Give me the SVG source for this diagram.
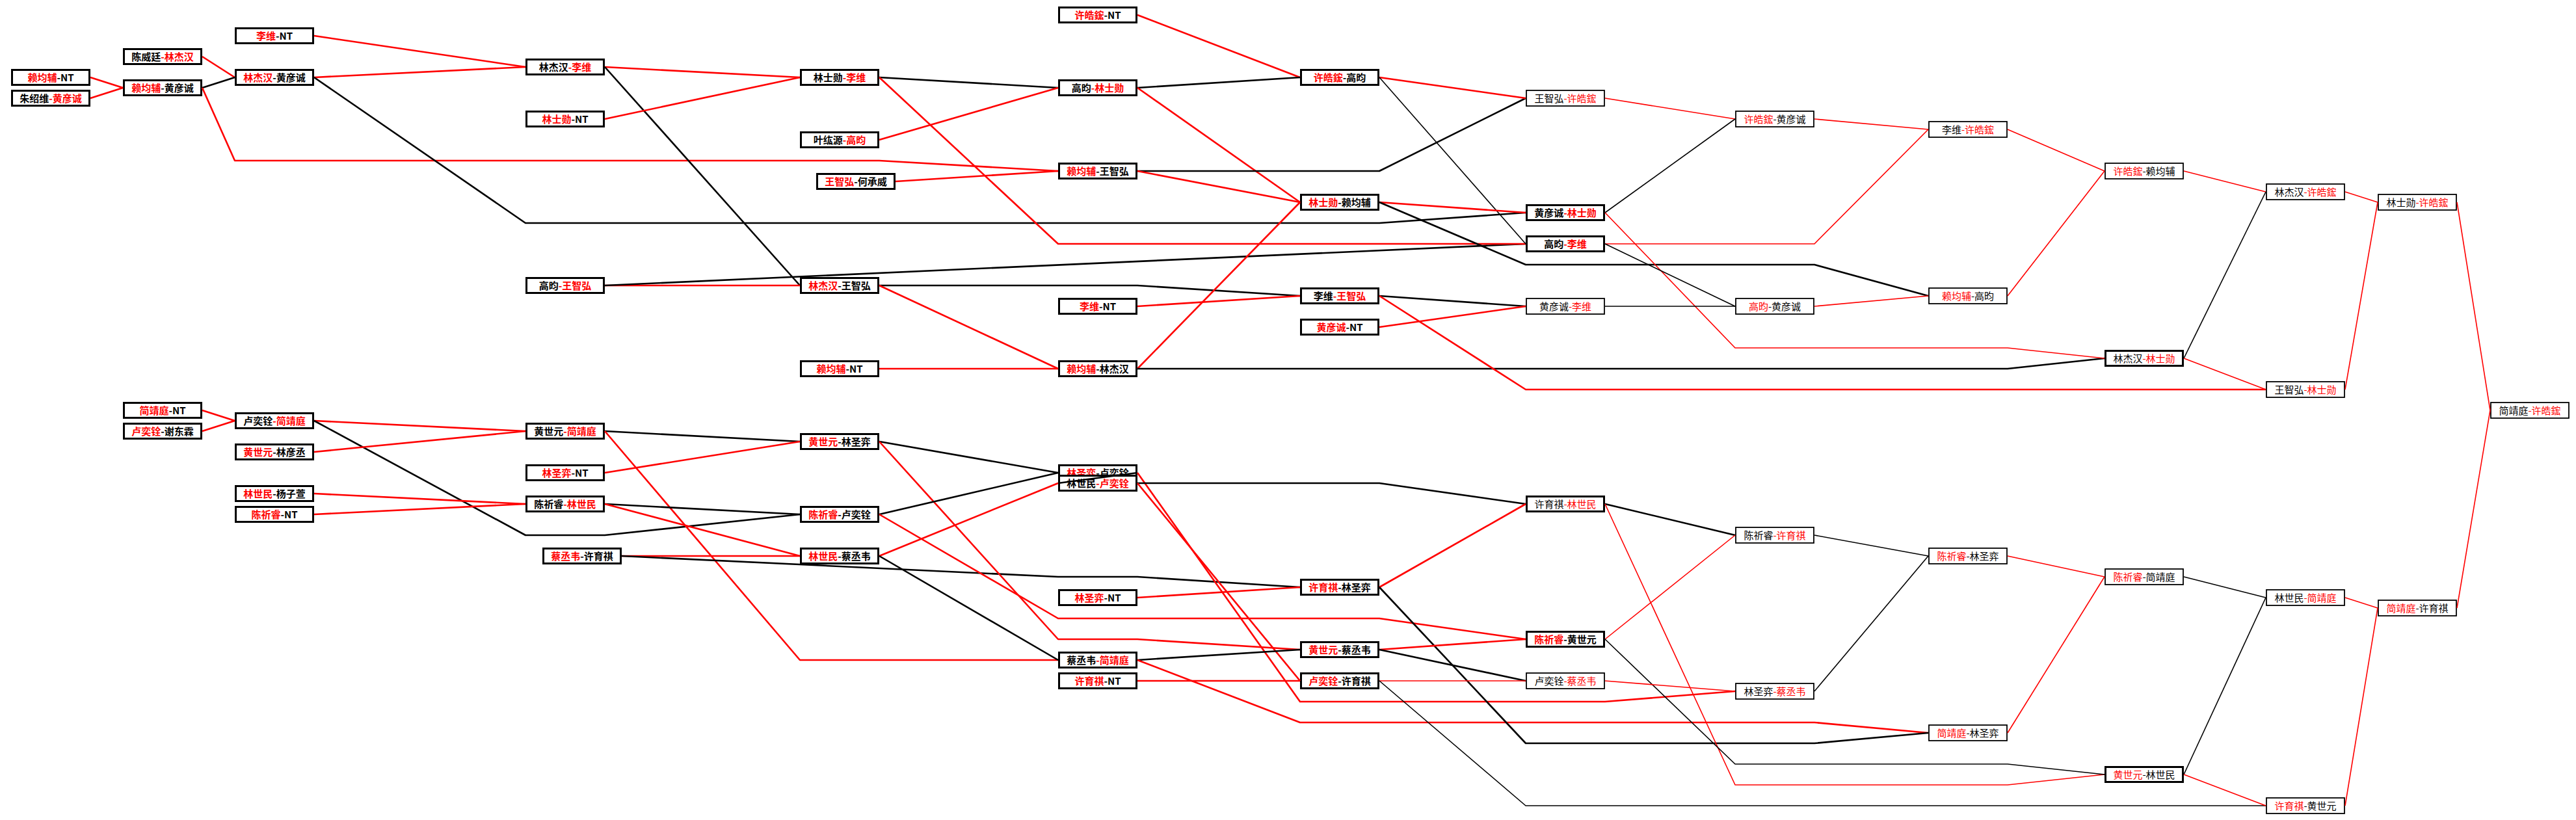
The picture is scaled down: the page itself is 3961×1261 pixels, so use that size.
<svg xmlns="http://www.w3.org/2000/svg" width="3961" height="1261" viewBox="0 0 3961 1261">
<style>
.bg{fill:#fff}
.bx{fill:#fff;stroke:#000;stroke-width:3}
.bx2{fill:#fff;stroke:#000;stroke-width:1.8}
.t{font-family:"Noto Sans CJK SC",sans-serif;font-size:15px;text-anchor:middle;font-weight:700}
.t2{font-family:"Noto Sans CJK SC",sans-serif;font-size:15px;text-anchor:middle;font-weight:400}
.r{fill:#f00}
.k{fill:#000}
.lr{fill:none;stroke:#f00;stroke-width:2.6;stroke-linejoin:round}
.lb{fill:none;stroke:#000;stroke-width:2.6;stroke-linejoin:round}
.th{stroke-width:1.6}
</style>
<rect class="bg" x="0" y="0" width="3961" height="1261"/>
<g id="nodes">
<g id="n1"><rect class="bx" x="18.5" y="107.5" width="119" height="23"/><text class="t" x="78" y="124.5"><tspan class="r">赖均辅</tspan><tspan class="k">-NT</tspan></text></g>
<g id="n2"><rect class="bx" x="18.5" y="139.5" width="119" height="23"/><text class="t" x="78" y="156.5"><tspan class="k">朱绍维</tspan><tspan class="r">-黄彦诚</tspan></text></g>
<g id="n3"><rect class="bx" x="190.5" y="75.5" width="119" height="23"/><text class="t" x="250" y="92.5"><tspan class="k">陈威廷</tspan><tspan class="r">-林杰汉</tspan></text></g>
<g id="n4"><rect class="bx" x="190.5" y="123.5" width="119" height="23"/><text class="t" x="250" y="140.5"><tspan class="r">赖均辅</tspan><tspan class="k">-黄彦诚</tspan></text></g>
<g id="n5"><rect class="bx" x="362.5" y="43.5" width="119" height="23"/><text class="t" x="422" y="60.5"><tspan class="r">李维</tspan><tspan class="k">-NT</tspan></text></g>
<g id="n6"><rect class="bx" x="362.5" y="107.5" width="119" height="23"/><text class="t" x="422" y="124.5"><tspan class="r">林杰汉</tspan><tspan class="k">-黄彦诚</tspan></text></g>
<g id="n7"><rect class="bx" x="809.5" y="91.5" width="119" height="23"/><text class="t" x="869" y="108.5"><tspan class="k">林杰汉</tspan><tspan class="r">-李维</tspan></text></g>
<g id="n8"><rect class="bx" x="809.5" y="171.5" width="119" height="23"/><text class="t" x="869" y="188.5"><tspan class="r">林士勋</tspan><tspan class="k">-NT</tspan></text></g>
<g id="n9"><rect class="bx" x="809.5" y="427.5" width="119" height="23"/><text class="t" x="869" y="444.5"><tspan class="k">高昀</tspan><tspan class="r">-王智弘</tspan></text></g>
<g id="n10"><rect class="bx" x="1231.5" y="107.5" width="119" height="23"/><text class="t" x="1291" y="124.5"><tspan class="k">林士勋</tspan><tspan class="r">-李维</tspan></text></g>
<g id="n11"><rect class="bx" x="1231.5" y="203.5" width="119" height="23"/><text class="t" x="1291" y="220.5"><tspan class="k">叶纮源</tspan><tspan class="r">-高昀</tspan></text></g>
<g id="n12"><rect class="bx" x="1256.5" y="267.5" width="119" height="23"/><text class="t" x="1316" y="284.5"><tspan class="r">王智弘</tspan><tspan class="k">-何承威</tspan></text></g>
<g id="n13"><rect class="bx" x="1231.5" y="427.5" width="119" height="23"/><text class="t" x="1291" y="444.5"><tspan class="r">林杰汉</tspan><tspan class="k">-王智弘</tspan></text></g>
<g id="n14"><rect class="bx" x="1231.5" y="555.5" width="119" height="23"/><text class="t" x="1291" y="572.5"><tspan class="r">赖均辅</tspan><tspan class="k">-NT</tspan></text></g>
<g id="n15"><rect class="bx" x="1628.5" y="11.5" width="119" height="23"/><text class="t" x="1688" y="28.5"><tspan class="r">许皓鋐</tspan><tspan class="k">-NT</tspan></text></g>
<g id="n16"><rect class="bx" x="1628.5" y="123.5" width="119" height="23"/><text class="t" x="1688" y="140.5"><tspan class="k">高昀</tspan><tspan class="r">-林士勋</tspan></text></g>
<g id="n17"><rect class="bx" x="1628.5" y="251.5" width="119" height="23"/><text class="t" x="1688" y="268.5"><tspan class="r">赖均辅</tspan><tspan class="k">-王智弘</tspan></text></g>
<g id="n18"><rect class="bx" x="1628.5" y="459.5" width="119" height="23"/><text class="t" x="1688" y="476.5"><tspan class="r">李维</tspan><tspan class="k">-NT</tspan></text></g>
<g id="n19"><rect class="bx" x="1628.5" y="555.5" width="119" height="23"/><text class="t" x="1688" y="572.5"><tspan class="r">赖均辅</tspan><tspan class="k">-林杰汉</tspan></text></g>
<g id="n20"><rect class="bx" x="2000.5" y="107.5" width="119" height="23"/><text class="t" x="2060" y="124.5"><tspan class="r">许皓鋐</tspan><tspan class="k">-高昀</tspan></text></g>
<g id="n21"><rect class="bx" x="2000.5" y="299.5" width="119" height="23"/><text class="t" x="2060" y="316.5"><tspan class="r">林士勋</tspan><tspan class="k">-赖均辅</tspan></text></g>
<g id="n22"><rect class="bx" x="2000.5" y="443.5" width="119" height="23"/><text class="t" x="2060" y="460.5"><tspan class="k">李维</tspan><tspan class="r">-王智弘</tspan></text></g>
<g id="n23"><rect class="bx" x="2000.5" y="491.5" width="119" height="23"/><text class="t" x="2060" y="508.5"><tspan class="r">黄彦诚</tspan><tspan class="k">-NT</tspan></text></g>
<g id="n24"><rect class="bx2" x="2347" y="139" width="120" height="24"/><text class="t2" x="2407" y="156.5"><tspan class="k">王智弘</tspan><tspan class="r">-许皓鋐</tspan></text></g>
<g id="n25"><rect class="bx" x="2347.5" y="315.5" width="119" height="23"/><text class="t" x="2407" y="332.5"><tspan class="k">黄彦诚</tspan><tspan class="r">-林士勋</tspan></text></g>
<g id="n26"><rect class="bx" x="2347.5" y="363.5" width="119" height="23"/><text class="t" x="2407" y="380.5"><tspan class="k">高昀</tspan><tspan class="r">-李维</tspan></text></g>
<g id="n27"><rect class="bx2" x="2347" y="459" width="120" height="24"/><text class="t2" x="2407" y="476.5"><tspan class="k">黄彦诚</tspan><tspan class="r">-李维</tspan></text></g>
<g id="n28"><rect class="bx2" x="2669" y="171" width="120" height="24"/><text class="t2" x="2729" y="188.5"><tspan class="r">许皓鋐</tspan><tspan class="k">-黄彦诚</tspan></text></g>
<g id="n29"><rect class="bx2" x="2669" y="459" width="120" height="24"/><text class="t2" x="2729" y="476.5"><tspan class="r">高昀</tspan><tspan class="k">-黄彦诚</tspan></text></g>
<g id="n30"><rect class="bx2" x="2966" y="187" width="120" height="24"/><text class="t2" x="3026" y="204.5"><tspan class="k">李维</tspan><tspan class="r">-许皓鋐</tspan></text></g>
<g id="n31"><rect class="bx2" x="2966" y="443" width="120" height="24"/><text class="t2" x="3026" y="460.5"><tspan class="r">赖均辅</tspan><tspan class="k">-高昀</tspan></text></g>
<g id="n32"><rect class="bx2" x="3237" y="251" width="120" height="24"/><text class="t2" x="3297" y="268.5"><tspan class="r">许皓鋐</tspan><tspan class="k">-赖均辅</tspan></text></g>
<g id="n33"><rect class="bx" x="3237.5" y="539.5" width="119" height="23"/><text class="t2" x="3297" y="556.5"><tspan class="k">林杰汉</tspan><tspan class="r">-林士勋</tspan></text></g>
<g id="n34"><rect class="bx2" x="3485" y="283" width="120" height="24"/><text class="t2" x="3545" y="300.5"><tspan class="k">林杰汉</tspan><tspan class="r">-许皓鋐</tspan></text></g>
<g id="n35"><rect class="bx2" x="3485" y="587" width="120" height="24"/><text class="t2" x="3545" y="604.5"><tspan class="k">王智弘</tspan><tspan class="r">-林士勋</tspan></text></g>
<g id="n36"><rect class="bx2" x="3657" y="299" width="120" height="24"/><text class="t2" x="3717" y="316.5"><tspan class="k">林士勋</tspan><tspan class="r">-许皓鋐</tspan></text></g>
<g id="n37"><rect class="bx2" x="3830" y="619" width="120" height="24"/><text class="t2" x="3890" y="636.5"><tspan class="k">简靖庭</tspan><tspan class="r">-许皓鋐</tspan></text></g>
<g id="n38"><rect class="bx" x="190.5" y="619.5" width="119" height="23"/><text class="t" x="250" y="636.5"><tspan class="r">简靖庭</tspan><tspan class="k">-NT</tspan></text></g>
<g id="n39"><rect class="bx" x="190.5" y="651.5" width="119" height="23"/><text class="t" x="250" y="668.5"><tspan class="r">卢奕铨</tspan><tspan class="k">-谢东霖</tspan></text></g>
<g id="n40"><rect class="bx" x="362.5" y="635.5" width="119" height="23"/><text class="t" x="422" y="652.5"><tspan class="k">卢奕铨</tspan><tspan class="r">-简靖庭</tspan></text></g>
<g id="n41"><rect class="bx" x="362.5" y="683.5" width="119" height="23"/><text class="t" x="422" y="700.5"><tspan class="r">黄世元</tspan><tspan class="k">-林彦丞</tspan></text></g>
<g id="n42"><rect class="bx" x="362.5" y="747.5" width="119" height="23"/><text class="t" x="422" y="764.5"><tspan class="r">林世民</tspan><tspan class="k">-杨子萱</tspan></text></g>
<g id="n43"><rect class="bx" x="362.5" y="779.5" width="119" height="23"/><text class="t" x="422" y="796.5"><tspan class="r">陈祈睿</tspan><tspan class="k">-NT</tspan></text></g>
<g id="n44"><rect class="bx" x="809.5" y="651.5" width="119" height="23"/><text class="t" x="869" y="668.5"><tspan class="k">黄世元</tspan><tspan class="r">-简靖庭</tspan></text></g>
<g id="n45"><rect class="bx" x="809.5" y="715.5" width="119" height="23"/><text class="t" x="869" y="732.5"><tspan class="r">林圣弈</tspan><tspan class="k">-NT</tspan></text></g>
<g id="n46"><rect class="bx" x="809.5" y="763.5" width="119" height="23"/><text class="t" x="869" y="780.5"><tspan class="k">陈祈睿</tspan><tspan class="r">-林世民</tspan></text></g>
<g id="n47"><rect class="bx" x="835.5" y="843.5" width="119" height="23"/><text class="t" x="895" y="860.5"><tspan class="r">蔡丞韦</tspan><tspan class="k">-许育祺</tspan></text></g>
<g id="n48"><rect class="bx" x="1231.5" y="667.5" width="119" height="23"/><text class="t" x="1291" y="684.5"><tspan class="r">黄世元</tspan><tspan class="k">-林圣弈</tspan></text></g>
<g id="n49"><rect class="bx" x="1231.5" y="779.5" width="119" height="23"/><text class="t" x="1291" y="796.5"><tspan class="r">陈祈睿</tspan><tspan class="k">-卢奕铨</tspan></text></g>
<g id="n50"><rect class="bx" x="1231.5" y="843.5" width="119" height="23"/><text class="t" x="1291" y="860.5"><tspan class="r">林世民</tspan><tspan class="k">-蔡丞韦</tspan></text></g>
<g id="n51"><rect class="bx" x="1628.5" y="715.5" width="119" height="23"/><text class="t" x="1688" y="732.5"><tspan class="r">林圣弈</tspan><tspan class="k">-卢奕铨</tspan></text></g>
<g id="n52"><rect class="bx" x="1628.5" y="731.5" width="119" height="23"/><text class="t" x="1688" y="748.5"><tspan class="k">林世民</tspan><tspan class="r">-卢奕铨</tspan></text></g>
<g id="n53"><rect class="bx" x="1628.5" y="907.5" width="119" height="23"/><text class="t" x="1688" y="924.5"><tspan class="r">林圣弈</tspan><tspan class="k">-NT</tspan></text></g>
<g id="n54"><rect class="bx" x="1628.5" y="1003.5" width="119" height="23"/><text class="t" x="1688" y="1020.5"><tspan class="k">蔡丞韦</tspan><tspan class="r">-简靖庭</tspan></text></g>
<g id="n55"><rect class="bx" x="1628.5" y="1035.5" width="119" height="23"/><text class="t" x="1688" y="1052.5"><tspan class="r">许育祺</tspan><tspan class="k">-NT</tspan></text></g>
<g id="n56"><rect class="bx" x="2000.5" y="891.5" width="119" height="23"/><text class="t" x="2060" y="908.5"><tspan class="r">许育祺</tspan><tspan class="k">-林圣弈</tspan></text></g>
<g id="n57"><rect class="bx" x="2000.5" y="987.5" width="119" height="23"/><text class="t" x="2060" y="1004.5"><tspan class="r">黄世元</tspan><tspan class="k">-蔡丞韦</tspan></text></g>
<g id="n58"><rect class="bx" x="2000.5" y="1035.5" width="119" height="23"/><text class="t" x="2060" y="1052.5"><tspan class="r">卢奕铨</tspan><tspan class="k">-许育祺</tspan></text></g>
<g id="n59"><rect class="bx" x="2347.5" y="763.5" width="119" height="23"/><text class="t2" x="2407" y="780.5"><tspan class="k">许育祺</tspan><tspan class="r">-林世民</tspan></text></g>
<g id="n60"><rect class="bx" x="2347.5" y="971.5" width="119" height="23"/><text class="t" x="2407" y="988.5"><tspan class="r">陈祈睿</tspan><tspan class="k">-黄世元</tspan></text></g>
<g id="n61"><rect class="bx2" x="2347" y="1035" width="120" height="24"/><text class="t2" x="2407" y="1052.5"><tspan class="k">卢奕铨</tspan><tspan class="r">-蔡丞韦</tspan></text></g>
<g id="n62"><rect class="bx2" x="2669" y="811" width="120" height="24"/><text class="t2" x="2729" y="828.5"><tspan class="k">陈祈睿</tspan><tspan class="r">-许育祺</tspan></text></g>
<g id="n63"><rect class="bx2" x="2669" y="1051" width="120" height="24"/><text class="t2" x="2729" y="1068.5"><tspan class="k">林圣弈</tspan><tspan class="r">-蔡丞韦</tspan></text></g>
<g id="n64"><rect class="bx2" x="2966" y="843" width="120" height="24"/><text class="t2" x="3026" y="860.5"><tspan class="r">陈祈睿</tspan><tspan class="k">-林圣弈</tspan></text></g>
<g id="n65"><rect class="bx2" x="2966" y="1115" width="120" height="24"/><text class="t2" x="3026" y="1132.5"><tspan class="r">简靖庭</tspan><tspan class="k">-林圣弈</tspan></text></g>
<g id="n66"><rect class="bx2" x="3237" y="875" width="120" height="24"/><text class="t2" x="3297" y="892.5"><tspan class="r">陈祈睿</tspan><tspan class="k">-简靖庭</tspan></text></g>
<g id="n67"><rect class="bx" x="3237.5" y="1179.5" width="119" height="23"/><text class="t2" x="3297" y="1196.5"><tspan class="r">黄世元</tspan><tspan class="k">-林世民</tspan></text></g>
<g id="n68"><rect class="bx2" x="3485" y="907" width="120" height="24"/><text class="t2" x="3545" y="924.5"><tspan class="k">林世民</tspan><tspan class="r">-简靖庭</tspan></text></g>
<g id="n69"><rect class="bx2" x="3485" y="1227" width="120" height="24"/><text class="t2" x="3545" y="1244.5"><tspan class="r">许育祺</tspan><tspan class="k">-黄世元</tspan></text></g>
<g id="n70"><rect class="bx2" x="3657" y="923" width="120" height="24"/><text class="t2" x="3717" y="940.5"><tspan class="r">简靖庭</tspan><tspan class="k">-许育祺</tspan></text></g>
</g>
<g id="connectors">
<polyline class="lr" points="139,119 189,135"/>
<polyline class="lr" points="139,151 189,135"/>
<polyline class="lr" points="311,87 361,119"/>
<polyline class="lb" points="311,135 361,119"/>
<polyline class="lr" points="311,135 361,247 1352,247 1627,263"/>
<polyline class="lr" points="483,55 808,103"/>
<polyline class="lr" points="483,119 808,103"/>
<polyline class="lb" points="483,119 808,343 2121,343 2346,327"/>
<polyline class="lr" points="930,103 1230,119"/>
<polyline class="lb" points="930,103 1230,439"/>
<polyline class="lr" points="930,183 1230,119"/>
<polyline class="lr" points="930,439 1230,439"/>
<polyline class="lb" points="930,439 2346,375"/>
<polyline class="lb" points="1352,119 1627,135"/>
<polyline class="lr" points="1352,119 1627,375 2346,375"/>
<polyline class="lr" points="1352,215 1627,135"/>
<polyline class="lr" points="1377,279 1627,263"/>
<polyline class="lb" points="1352,439 1749,439 1999,455"/>
<polyline class="lr" points="1352,439 1627,567"/>
<polyline class="lr" points="1352,567 1627,567"/>
<polyline class="lr" points="1749,23 1999,119"/>
<polyline class="lb" points="1749,135 1999,119"/>
<polyline class="lr" points="1749,135 1999,311"/>
<polyline class="lb" points="1749,263 2121,263 2346,151"/>
<polyline class="lr" points="1749,263 1999,311"/>
<polyline class="lr" points="1749,471 1999,455"/>
<polyline class="lr" points="1749,567 1999,311"/>
<polyline class="lb" points="1749,567 3087,567 3236,551"/>
<polyline class="lr" points="2121,119 2346,151"/>
<polyline class="lb th" points="2121,119 2346,375"/>
<polyline class="lr" points="2121,311 2346,327"/>
<polyline class="lb" points="2121,311 2346,407 2790,407 2965,455"/>
<polyline class="lb" points="2121,455 2346,471"/>
<polyline class="lr" points="2121,455 2346,599 3484,599"/>
<polyline class="lr" points="2121,503 2346,471"/>
<polyline class="lr th" points="2468,151 2668,183"/>
<polyline class="lb th" points="2468,327 2668,183"/>
<polyline class="lr th" points="2468,327 2668,535 3087,535 3236,551"/>
<polyline class="lr th" points="2468,375 2790,375 2965,199"/>
<polyline class="lb th" points="2468,375 2668,471"/>
<polyline class="lb th" points="2468,471 2668,471"/>
<polyline class="lr th" points="2790,183 2965,199"/>
<polyline class="lr th" points="2790,471 2965,455"/>
<polyline class="lr th" points="3087,199 3236,263"/>
<polyline class="lr th" points="3087,455 3236,263"/>
<polyline class="lr th" points="3358,263 3484,295"/>
<polyline class="lb th" points="3358,551 3484,295"/>
<polyline class="lr th" points="3358,551 3484,599"/>
<polyline class="lr th" points="3606,295 3656,311"/>
<polyline class="lr th" points="3606,599 3656,311"/>
<polyline class="lr th" points="3778,311 3829,631"/>
<polyline class="lr" points="311,631 361,647"/>
<polyline class="lr" points="311,663 361,647"/>
<polyline class="lr" points="483,647 808,663"/>
<polyline class="lb" points="483,647 808,823 930,823 1230,791"/>
<polyline class="lr" points="483,695 808,663"/>
<polyline class="lr" points="483,759 808,775"/>
<polyline class="lr" points="483,791 808,775"/>
<polyline class="lb" points="930,663 1230,679"/>
<polyline class="lr" points="930,663 1230,1015 1627,1015"/>
<polyline class="lr" points="930,727 1230,679"/>
<polyline class="lb" points="930,775 1230,791"/>
<polyline class="lr" points="930,775 1230,855"/>
<polyline class="lr" points="956,855 1230,855"/>
<polyline class="lb" points="956,855 1627,887 1749,887 1999,903"/>
<polyline class="lb" points="1352,679 1627,727"/>
<polyline class="lr" points="1352,679 1627,983 1749,983 1999,999"/>
<polyline class="lb" points="1352,791 1627,727"/>
<polyline class="lr" points="1352,791 1627,951 2121,951 2346,983"/>
<polyline class="lr" points="1352,855 1627,743"/>
<polyline class="lb" points="1352,855 1627,1015"/>
<polyline class="lb" points="1749,727 1627,743"/>
<polyline class="lr" points="1749,727 1999,1079 2468,1079 2668,1063"/>
<polyline class="lb" points="1749,743 2121,743 2346,775"/>
<polyline class="lr" points="1749,743 1999,1047"/>
<polyline class="lr" points="1749,919 1999,903"/>
<polyline class="lb" points="1749,1015 1999,999"/>
<polyline class="lr" points="1749,1015 1999,1111 2790,1111 2965,1127"/>
<polyline class="lr" points="1749,1047 1999,1047"/>
<polyline class="lr" points="2121,903 2346,775"/>
<polyline class="lb" points="2121,903 2346,1143 2790,1143 2965,1127"/>
<polyline class="lr" points="2121,999 2346,983"/>
<polyline class="lb" points="2121,999 2346,1047"/>
<polyline class="lr th" points="2121,1047 2346,1047"/>
<polyline class="lb th" points="2121,1047 2346,1239 3484,1239"/>
<polyline class="lb" points="2468,775 2668,823"/>
<polyline class="lr th" points="2468,775 2668,1207 3087,1207 3236,1191"/>
<polyline class="lr th" points="2468,983 2668,823"/>
<polyline class="lb th" points="2468,983 2668,1175 3087,1175 3236,1191"/>
<polyline class="lr th" points="2468,1047 2668,1063"/>
<polyline class="lb th" points="2790,823 2965,855"/>
<polyline class="lb th" points="2790,1063 2965,855"/>
<polyline class="lr th" points="3087,855 3236,887"/>
<polyline class="lr th" points="3087,1127 3236,887"/>
<polyline class="lb th" points="3358,887 3484,919"/>
<polyline class="lb th" points="3358,1191 3484,919"/>
<polyline class="lr th" points="3358,1191 3484,1239"/>
<polyline class="lr th" points="3606,919 3656,935"/>
<polyline class="lr th" points="3606,1239 3656,935"/>
<polyline class="lr th" points="3778,935 3829,631"/>
</g>
</svg>
